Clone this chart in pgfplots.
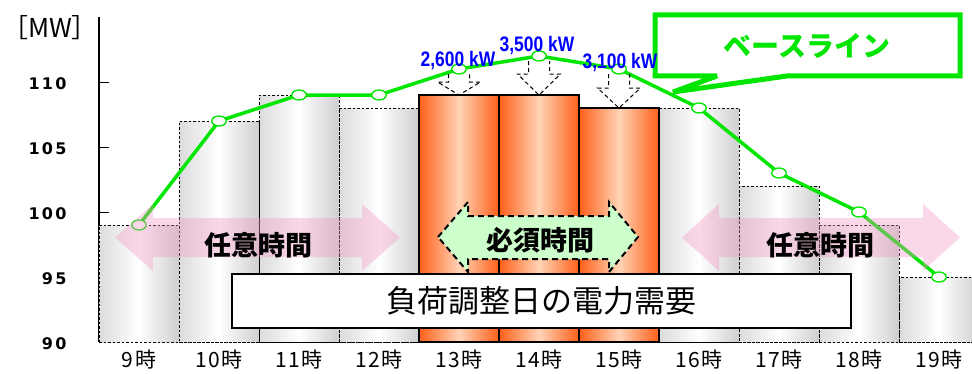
\documentclass[border=0pt]{standalone}
\usepackage{fontspec}
\setmainfont{Noto Sans CJK JP}
\newfontfamily\hourfont[LetterSpace=8]{Noto Sans CJK JP}
\newfontfamily\tickfont[LetterSpace=14]{DejaVu Sans}
\newfontfamily\kwfont[FakeStretch=0.83]{Liberation Sans}
\usepackage{pgfplots}
\usepackage{pgfplotstable}
\pgfplotsset{compat=1.18}
\usetikzlibrary{calc}

\definecolor{basegreen}{RGB}{0,230,0}
\definecolor{kwblue}{RGB}{0,0,255}
\definecolor{peakorange}{RGB}{255,95,25}
\definecolor{peach}{RGB}{255,212,182}
\definecolor{mustgreen}{RGB}{204,255,204}
\definecolor{freepink}{RGB}{245,150,200}

% hourly demand on the load-adjustment day [MW]; x = 0 is 9時
\pgfplotstableread{
x demand
0 99
1 107
2 109
3 108
7 108
8 102
9 99
10 95
}\offpeak
% required adjustment hours 13時-15時
\pgfplotstableread{
x demand
4 109
5 109
6 108
}\peak
% baseline
\pgfplotstableread{
x base
0 99
1 107
2 109
3 109
4 111
5 112
6 111
7 108
8 103
9 100
10 95
}\baselinedata

% shaded body of bar #2 of table #1, colours #3/#4/#5 (left/middle/right)
\newcommand\shadedbar[5]{%
  \pgfplotstablegetelem{#2}{x}\of#1%
  \pgfmathsetmacro\barL{\pgfplotsretval-0.5}%
  \pgfmathsetmacro\barR{\pgfplotsretval+0.5}%
  \pgfplotstablegetelem{#2}{demand}\of#1%
  \let\barH\pgfplotsretval
  \edef\next{\noexpand\shade[left color=#3, right color=#5, middle color=#4]
    (axis cs:\barL,90) rectangle (axis cs:\barR,\barH);}%
  \next}

% hollow dashed arrow from a baseline point down to a bar top
\newcommand\cutarrow[3]{%
  \draw[black, line width=1pt, dash pattern=on 4pt off 3pt, line join=miter]
    ($(#1)+(-10.5pt,-5pt)$) -- ($(#2)+(-10.5pt,#3)$) -- ($(#2)+(-21.5pt,#3)$)
    -- (#2) -- ($(#2)+(21.5pt,#3)$) -- ($(#2)+(10.5pt,#3)$) -- ($(#1)+(10.5pt,-5pt)$);}

\begin{document}
\begin{tikzpicture}
\useasboundingbox (0,0) rectangle (972pt,373pt);
\clip (0,0) rectangle (972pt,373pt);
\begin{axis}[
  at={(99pt,31pt)}, anchor=south west,
  scale only axis, width=873pt, height=325pt,
  xmin=-0.5, xmax=10.4125, ymin=90, ymax=115,
  clip mode=individual,
  axis x line*=bottom, axis y line*=left,
  x axis line style={draw=none},
  y axis line style={-, line width=1.2pt},
  xtick={0,...,10},
  xticklabels={9時,10時,11時,12時,13時,14時,15時,16時,17時,18時,19時},
  x tick style={draw=none},
  ytick={90,95,...,110},
  y tick style={line width=1pt, black},
  tick align=inside, major tick length=10pt,
  /pgf/number format/assume math mode=true,
  yticklabel style={font=\tickfont\bfseries\fontsize{16}{16}\selectfont, xshift=-29pt, yshift=-2pt},
  xticklabel style={font=\hourfont\fontsize{21}{21}\selectfont, yshift=-4pt},
]
\pgfplotsinvokeforeach{0,...,7}{\shadedbar{\offpeak}{#1}{gray!28}{white}{gray!38}}
\pgfplotsinvokeforeach{0,...,2}{\shadedbar{\peak}{#1}{peakorange}{peach}{peakorange}}
\addplot[ybar, bar width=1, bar shift=0pt, draw=black, fill=none, line width=0.8pt,
  dash pattern=on 2.5pt off 2pt]
  table[x=x, y=demand]{\offpeak};
\addplot[ybar, bar width=1, bar shift=0pt, draw=black, fill=none, line width=1.2pt]
  table[x=x, y=demand]{\peak};
\draw[black, line width=0.8pt, dash pattern=on 2.5pt off 2pt]
  (axis cs:-0.5,90) -- (axis cs:10.6,90);
\addplot[basegreen, line width=3.5pt, mark=*, mark size=5pt,
  mark options={fill=white, draw=basegreen, line width=1.3pt, xscale=1.45, solid}]
  table[x=x, y=base]{\baselinedata};
\coordinate (p13) at (axis cs:4,111);
\coordinate (b13) at (axis cs:4,109);
\coordinate (p14) at (axis cs:5,112);
\coordinate (b14) at (axis cs:5,109);
\coordinate (p15) at (axis cs:6,111);
\coordinate (b15) at (axis cs:6,108);
\end{axis}

\cutarrow{p13}{b13}{13pt}
\cutarrow{p14}{b14}{21pt}
\cutarrow{p15}{b15}{20pt}

\begin{scope}[shift={(0pt,373pt)}, x=1pt, y=-1pt]
  % optional hours
  \fill[freepink, opacity=0.38] (115,237.5) -- (153,204) -- (153,218) -- (362,218)
    -- (362,204) -- (400,237.5) -- (362,271) -- (362,257) -- (153,257) -- (153,271) -- cycle;
  \fill[freepink, opacity=0.38] (682,237.5) -- (719,204) -- (719,218) -- (923,218)
    -- (923,204) -- (960,237.5) -- (923,271) -- (923,257) -- (719,257) -- (719,271) -- cycle;
  \node[font=\bfseries\fontsize{27}{27}\selectfont] at (258,245) {任意時間};
  \node[font=\bfseries\fontsize{27}{27}\selectfont] at (820,245) {任意時間};
  % required hours
  \filldraw[fill=mustgreen, draw=black, line width=2pt, dash pattern=on 6pt off 4pt]
    (438,237) -- (468,202) -- (468,216) -- (609,216) -- (609,202) -- (638,237)
    -- (609,272) -- (609,259) -- (468,259) -- (468,272) -- cycle;
  \node[font=\bfseries\fontsize{27}{27}\selectfont] at (540,240) {必須時間};
  % caption box
  \draw[fill=white, line width=2.5pt] (232,274) rectangle (851,328);
  \node[font=\fontsize{31}{31}\selectfont] at (541,301) {負荷調整日の電力需要};
  % baseline callout
  \filldraw[fill=white, draw=basegreen, line width=5pt, line join=miter, miter limit=2]
    (655,15) -- (960,15) -- (960,76) -- (787,76) -- (673,92) -- (717,76) -- (655,76) -- cycle;
  \node[text=basegreen, font=\bfseries\fontsize{28}{28}\selectfont] at (807,46) {ベースライン};
  % reductions
  \node[text=kwblue, font=\kwfont\bfseries\fontsize{21}{21}\selectfont] at (458,61) {2,600 kW};
  \node[text=kwblue, font=\kwfont\bfseries\fontsize{21}{21}\selectfont] at (537,46) {3,500 kW};
  \node[text=kwblue, font=\kwfont\bfseries\fontsize{21}{21}\selectfont] at (620,63) {3,100 kW};
  % unit
  \node[font=\fontsize{26}{26}\selectfont] at (50,28) {［MW］};
\end{scope}
\end{tikzpicture}
\end{document}
